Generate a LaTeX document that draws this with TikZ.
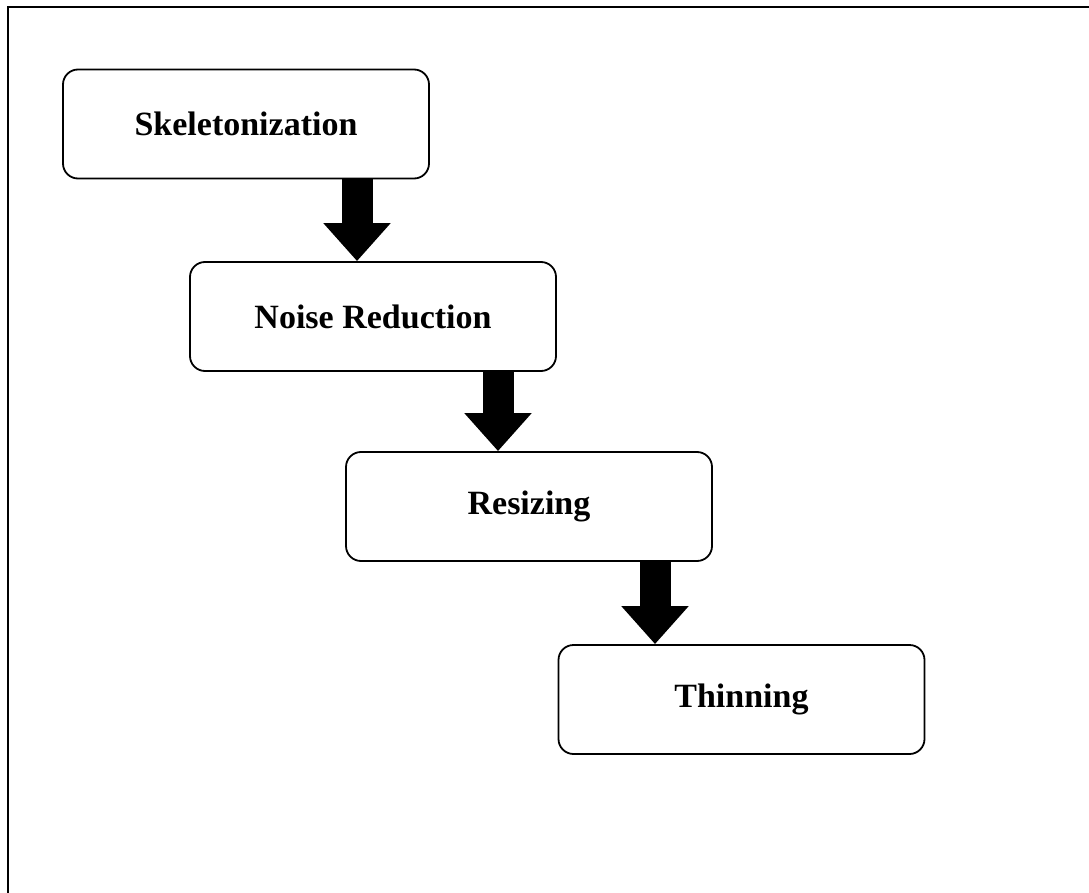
\documentclass[tikz,border=0pt]{standalone}
\usepackage{fontspec}
\setmainfont{Liberation Serif}
\usetikzlibrary{arrows.meta}
\begin{document}
\begin{tikzpicture}[x=1pt,y=-1pt,
  box/.style={draw=black, line width=1.8pt, rounded corners=15pt, minimum width=366pt, minimum height=109pt, inner sep=0pt, font=\fontsize{34}{40}\selectfont\bfseries},
  bigarrow/.style={line width=31pt, -{Triangle[width=65pt,length=38pt]}}]
\useasboundingbox (0,0) rectangle (1089,893);
\draw[line width=2pt] (8,893) -- (8,7) -- (1089,7);
\node[box] (b1) at (246,124) {Skeletonization};
\node[box] (b2) at (373,316.5) {Noise Reduction};
\node[box] (b3) at (529,506.5) {Resizing};
\node[box] (b4) at (741.5,699.5) {Thinning};
\coordinate (x1) at (357,0);
\coordinate (x2) at (498,0);
\coordinate (x3) at (655,0);
\draw[bigarrow] (b1.south -| x1) -- (b2.north -| x1);
\draw[bigarrow] (b2.south -| x2) -- (b3.north -| x2);
\draw[bigarrow] (b3.south -| x3) -- (b4.north -| x3);
\end{tikzpicture}
\end{document}
